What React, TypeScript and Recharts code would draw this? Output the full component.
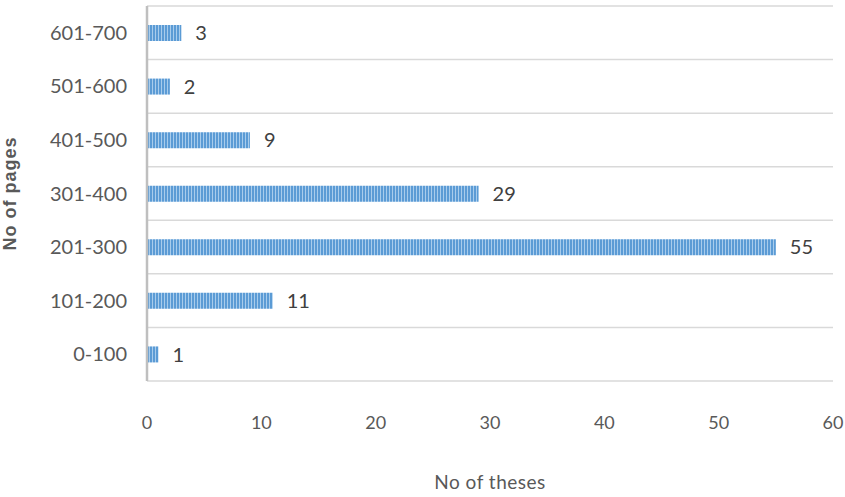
import React from "react";
import { BarChart, Bar, XAxis, YAxis, CartesianGrid, LabelList } from "recharts";

const categories = ["0-100", "101-200", "201-300", "301-400", "401-500", "501-600", "601-700"];
const theses = [1, 11, 55, 29, 9, 2, 3];
const xTicks = [0, 10, 20, 30, 40, 50, 60];

const data = categories.map((c, i) => ({ pages: c, theses: theses[i] }));

const gridGen = ({ offset }: any) => {
  const n = categories.length;
  const pts: number[] = [];
  for (let i = 0; i <= n; i++) pts.push(offset.top + (offset.height * i) / n);
  return pts;
};

export default function App() {
  return (
    <div style={{ position: "absolute", left: 0, top: 0, width: 845, height: 497, background: "#fff" }}>
      <svg width={0} height={0} style={{ position: "absolute" }}>
        <defs>
          <pattern id="stripes" width={3} height={10} patternUnits="userSpaceOnUse">
            <rect x={0} y={0} width={2} height={10} fill="#5B9BD5" />
            <rect x={2} y={0} width={1} height={10} fill="#A8CCEC" />
          </pattern>
        </defs>
      </svg>
      <BarChart
        width={845}
        height={497}
        data={data}
        layout="vertical"
        margin={{ top: 6, right: 12, bottom: 76, left: 0 }}
        barCategoryGap={0}
      >
        <CartesianGrid
          vertical={false}
          stroke="#D9D9D9"
          strokeWidth={1.5}
          horizontalCoordinatesGenerator={gridGen}
        />
        <XAxis
          type="number"
          domain={[0, 60]}
          ticks={xTicks}
          axisLine={false}
          tickLine={false}
          tickSize={0}
          tickMargin={35}
          height={40}
          tick={{ fontFamily: "Lato", fontSize: 18, fill: "#595959" }}
          label={{
            value: "No of theses",
            position: "insideBottom",
            offset: -68,
            style: { fontFamily: "Lato", fontSize: 19, fill: "#595959", letterSpacing: 0.5 },
          }}
        />
        <YAxis
          type="category"
          dataKey="pages"
          reversed
          width={147}
          axisLine={{ stroke: "#BFBFBF", strokeWidth: 2.5 }}
          tickLine={false}
          tickSize={0}
          tickMargin={20}
          tick={{ fontFamily: "Lato", fontSize: 20, fill: "#595959" }}
          label={{
            value: "No of pages",
            angle: -90,
            position: "insideLeft",
            offset: 10,
            style: { fontFamily: "Liberation Sans", fontWeight: "bold", fontSize: 18, fill: "#595959", textAnchor: "middle", letterSpacing: 1 },
          }}
        />
        <Bar dataKey="theses" fill="url(#stripes)" barSize={16} isAnimationActive={false}>
          <LabelList
            dataKey="theses"
            position="right"
            offset={14}
            style={{ fontFamily: "Lato", fontSize: 20, fill: "#404040" }}
          />
        </Bar>
      </BarChart>
    </div>
  );
}
